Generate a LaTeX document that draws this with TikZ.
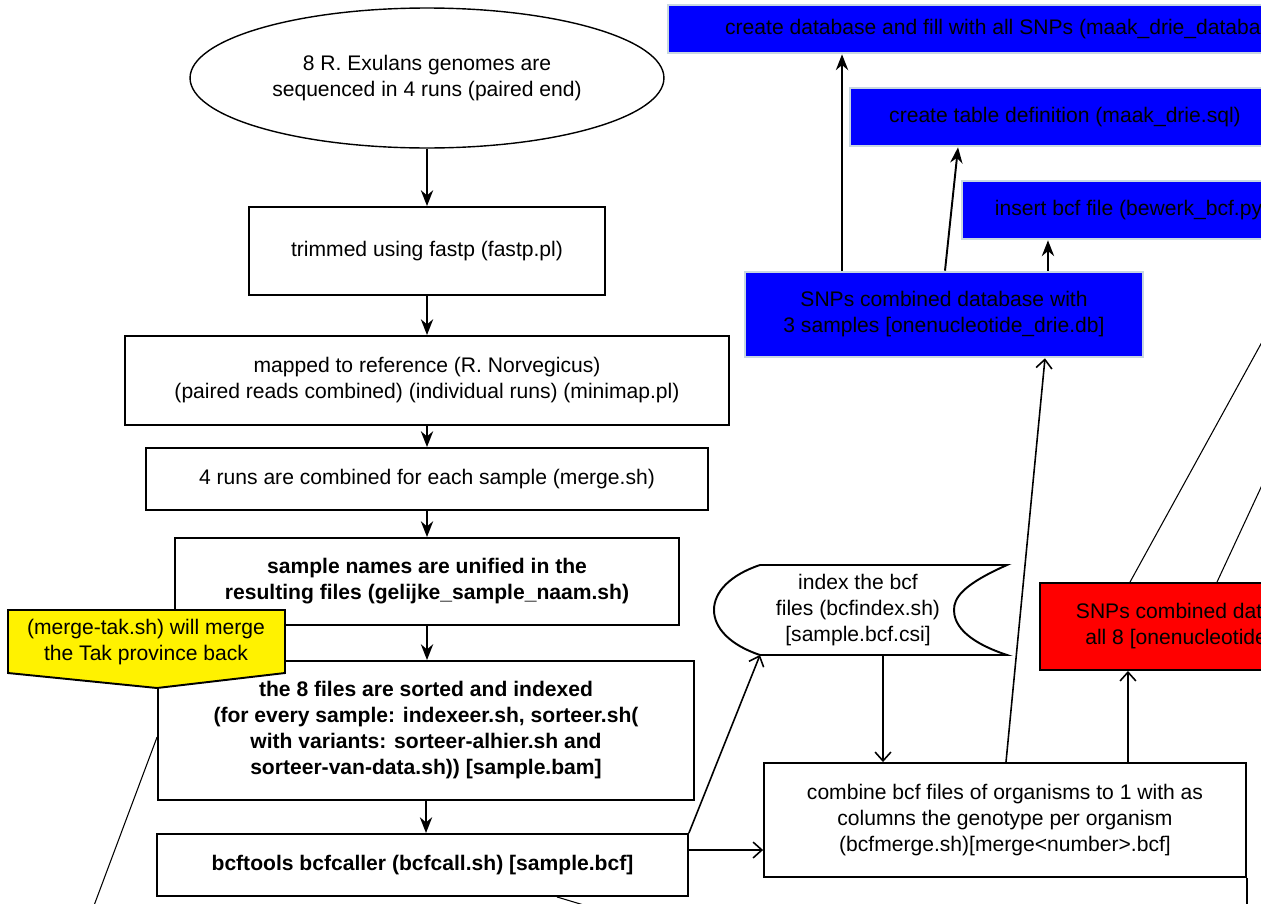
\documentclass[tikz,border=0pt]{standalone}
\usepackage{fontspec}
\setmainfont{Liberation Sans}
\usetikzlibrary{shapes.geometric, arrows.meta}
\definecolor{dbedge}{RGB}{200,215,225}

\begin{document}
\begin{tikzpicture}[x=0.02cm, y=-0.02cm,
	every node/.style={font=\fontsize{12}{14.8}\selectfont, align=center},
	stepbox/.style={draw, line width=1.1pt, inner sep=0pt},
	boldbox/.style={stepbox, font=\fontsize{12}{14.8}\selectfont\bfseries},
	dbbox/.style={draw=dbedge, line width=1.5pt, fill=blue, inner sep=0pt},
	flow/.style={line width=1.1pt, -{Stealth[length=9pt, width=7pt]}},
	feed/.style={line width=0.9pt, -{Straight Barb[length=5pt, width=9pt]}},
	wire/.style={line width=0.6pt}]
	\fill[white] (0,0) rectangle (1261,903);
	\useasboundingbox (0,0) rectangle (1261,903);
	\clip (0,0) rectangle (1261,903);
	
	% pipeline on the left
	\node[draw, ellipse, line width=0.8pt, inner sep=0pt, minimum width=9.48cm, minimum height=2.8cm] (seq) at (427,78) {8 R. Exulans genomes are\\sequenced in 4 runs (paired end)};
	\node[stepbox, minimum width=7.12cm, minimum height=1.76cm] (trim) at (427,251) {trimmed using fastp (fastp.pl)};
	\node[stepbox, minimum width=12.1cm, minimum height=1.78cm] (map) at (427,380.5) {mapped to reference (R. Norvegicus)\\(paired reads combined) (individual runs) (minimap.pl)};
	\node[stepbox, minimum width=11.24cm, minimum height=1.24cm] (merge) at (427,479) {4 runs are combined for each sample (merge.sh)};
	\node[boldbox, minimum width=10.1cm, minimum height=1.74cm] (names) at (427,581.5) {sample names are unified in the\\resulting files (gelijke\_sample\_naam.sh)};
	\node[boldbox, minimum width=10.72cm, minimum height=2.78cm] (sort) at (426,730.5) {the 8 files are sorted and indexed\\(for every sample: indexeer.sh, sorteer.sh(\\with variants: sorteer-alhier.sh and\\sorteer-van-data.sh)) {[}sample.bam]};
	\node[boldbox, minimum width=10.62cm, minimum height=1.24cm] (call) at (422.5,865) {bcftools bcfcaller (bcfcall.sh) {[}sample.bcf]};
	
	\draw[flow] (seq.south) -- (seq.south |- trim.north);
	\draw[flow] (trim.south) -- (trim.south |- map.north);
	\draw[flow] (map.south) -- (map.south |- merge.north);
	\draw[flow] (merge.south) -- (merge.south |- names.north);
	\draw[flow] (names.south) -- (names.south |- sort.north);
	\draw[flow] (sort.south) -- (sort.south |- call.north);
	
	% index and merge
	\node (idx) at (858,610) {index the bcf\\files (bcfindex.sh)\\{[}sample.bcf.csi]};
	\draw[line width=1.1pt] (760,565) -- (1007,565) .. controls (962,585) and (954,598) .. (954,610) .. controls (954,622) and (962,640) .. (1007,655) -- (760,655) .. controls (730,645) and (714,628) .. (714,610) .. controls (714,592) and (730,575) .. (760,565);
	\coordinate (idxsw) at (760,655);
	\coordinate (idxs) at (883,655);
	\node[stepbox, minimum width=9.64cm, minimum height=2.28cm] (comb) at (1005,820) {combine bcf files of organisms to 1 with as\\columns the genotype per organism\\(bcfmerge.sh){[}merge<number>.bcf]};
	
	\draw[feed] (call.north east) -- (idxsw);
	\draw[feed] (idxs) -- (idxs |- comb.north);
	\draw[feed] ([yshift=0.3cm]call.east) -- ([yshift=0.3cm]call.east -| comb.west);
	
	% databases
	\node[dbbox, minimum width=14.24cm, minimum height=0.96cm] (filldb) at (1024,29) {create database and fill with all SNPs (maak\_drie\_database.sql)};
	\node[dbbox, minimum width=8.6cm, minimum height=1.16cm] (table) at (1065,117) {create table definition (maak\_drie.sql)};
	\node[dbbox, minimum width=6.8cm, minimum height=1.16cm] (insert) at (1132,210) {insert bcf file (bewerk\_bcf.py)};
	\node[dbbox, minimum width=7.96cm, minimum height=1.7cm] (drie) at (944,314.5) {SNPs combined database with\\3 samples {[}onenucleotide\_drie.db]};
	\node[draw, line width=1.1pt, fill=red, inner sep=0pt, minimum width=7.18cm, minimum height=1.74cm] (acht) at (1219.5,626.5) {SNPs combined database with\\all 8 {[}onenucleotide\_acht.db]};
	
	\draw[flow] ([xshift=-2.04cm]drie.north) -- ([xshift=-2.04cm]drie.north |- filldb.south);
	\draw[flow] ([xshift=0.02cm]drie.north) -- ([xshift=-2.14cm]table.south);
	\draw[flow] ([xshift=2.08cm]drie.north) -- ([xshift=2.08cm]drie.north |- insert.south);
	\draw[feed] ([xshift=0.02cm]comb.north) -- ([xshift=2.02cm]drie.south);
	\draw[feed] ([xshift=2.46cm]comb.north) -- ([xshift=2.46cm]comb.north |- acht.south);
	
	\draw[wire] ([xshift=-1.79cm]acht.north) -- ++(160,-291);
	\draw[wire] ([xshift=-0.05cm]acht.north) -- ++(66,-142);
	\draw[wire] ([yshift=-0.13cm]sort.west) -- ++(-70,187);
	\draw[wire] ([xshift=2.69cm]call.south) -- ++(40,12);
	\draw[line width=1.1pt] (comb.south east) -- ++(0,40);
	
	% note
	\draw[fill=yellow, line width=1.1pt] (8,610) -- (285,610) -- (285,673) -- (157,688) -- (8,673) -- cycle;
	\node (note) at (146,642) {(merge-tak.sh) will merge\\the Tak province back};
\end{tikzpicture}
\end{document}
